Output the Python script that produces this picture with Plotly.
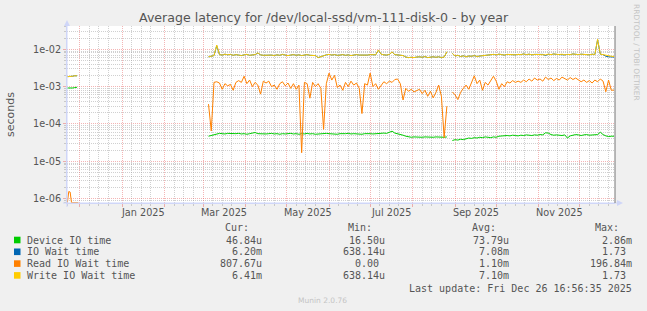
import plotly.graph_objects as go
import pandas as pd

# ---------------- data ----------------
early_dates = pd.date_range("2024-11-22", "2024-12-01", freq="D")
main_dates = pd.date_range("2025-03-05", "2025-12-26", freq="2D")

device_us_early = [920, 910, 930, 900, 920, 940, 950, 960, None, None]
iowait_ms_early = [1.85, 1.85, 1.9, 1.9, 1.9, 1.95, 1.95, 1.95, None, None]
read_ms_early = [0.00078, 0.00155, 0.0015, 0.00078, 0.00078, 0.00078, 0.00078, 0.00078, 0.00078, None]
write_ms_early = [1.85, 1.85, 1.9, 1.9, 1.9, 1.95, 1.95, 1.95, None, None]

device_us_main = [
    47, 49, 51, 53, 56, 55, 54, 56, 55, 54,
    55, 56, 54, 55, 53, 55, 56, 59, 55, 54,
    55, 54, 55, 56, 54, 55, 53, 55, 54, 55,
    56, 54, 55, 53, 55, 54, 56, 54, 55, 53,
    54, 55, 54, 56, 55, 54, 55, 53, 55, 54,
    55, 56, 54, 55, 54, 55, 53, 55, 56, 55,
    54, 55, 56, 55, 57, 56, 59, 64, 57, 55,
    54, 50, 47, 45, 44, 45, 44, 45, 44, 45,
    44, 45, 44, 45, 44, 45, 44, 45, None, 36,
    38, 37, 39, 38, 40, 42, 41, 43, 42, 44,
    43, 45, 44, 43, 45, 44, 47, 48, 47, 49,
    48, 50, 49, 48, 50, 49, 51, 50, 49, 51,
    50, 52, 51, 58, 57, 52, 50, 51, 50, 49,
    51, 42, 48, 50, 52, 51, 49, 51, 52, 50,
    51, 53, 52, 60, 52, 48, 46, 47, 47,
]

iowait_ms_main = [
    6.3, 6.5, 6.8, 12.5, 7.2, 7.0, 7.4, 7.1, 7.3, 6.9,
    7.2, 7.0, 6.8, 7.1, 7.3, 6.9, 7.0, 7.2, 7.9, 7.1,
    6.9, 7.0, 7.2, 7.0, 6.8, 7.1, 6.9, 7.3, 7.0, 6.8,
    7.0, 7.2, 6.9, 7.1, 6.8, 7.0, 7.2, 6.9, 7.0, 6.8,
    6.0, 6.4, 6.9, 7.1, 7.3, 7.0, 7.2, 6.9, 7.0, 7.2,
    6.9, 7.1, 6.8, 7.0, 7.2, 7.0, 6.9, 7.1, 7.0, 7.2,
    7.0, 7.1, 9.4, 7.4, 7.1, 7.0, 7.3, 8.4, 7.2, 7.0,
    7.1, 6.8, 6.2, 6.0, 6.1, 6.0, 6.2, 6.3, 6.1, 6.4,
    6.0, 6.2, 6.3, 6.1, 6.3, 6.0, 6.2, 8.5, None, 7.7,
    6.6, 6.9, 6.4, 6.7, 6.3, 6.6, 6.5, 6.8, 6.4, 6.6,
    6.7, 7.0, 7.2, 7.0, 7.3, 7.1, 7.4, 7.2, 7.0, 7.3,
    7.2, 7.4, 7.1, 7.3, 7.2, 7.5, 7.2, 7.4, 7.1, 7.3,
    7.2, 7.4, 7.3, 6.8, 7.4, 7.2, 7.5, 7.3, 7.2, 7.4,
    7.1, 7.3, 7.2, 7.5, 7.3, 7.2, 7.4, 7.2, 7.3, 7.1,
    7.4, 7.2, 18.0, 7.4, 7.2, 6.5, 6.3, 6.2, 6.2,
]

read_ms_main = [
    0.34, 0.065, 1.3, 1.35, 1.25, 0.85, 1.2, 1.05, 1.15, 0.8,
    1.3, 1.45, 1.3, 1.9, 1.2, 1.5, 1.0, 1.3, 1.1, 0.63,
    1.4, 1.25, 1.4, 1.0, 1.1, 0.85, 1.2, 1.35, 1.05, 1.25,
    0.9, 1.2, 0.85, 1.1, 0.017, 1.3, 1.2, 0.49, 1.3, 1.0,
    1.2, 0.9, 0.072, 1.2, 2.3, 1.5, 2.0, 0.95, 1.1, 0.8,
    1.3, 1.0, 1.4, 1.1, 1.25, 0.9, 0.19, 1.2, 1.1, 2.3,
    1.0, 1.2, 0.85, 1.1, 1.35, 1.2, 1.4, 1.3, 1.55, 1.6,
    1.2, 0.44, 0.9, 0.75, 0.85, 0.72, 0.8, 0.85, 0.65, 0.8,
    0.55, 0.75, 0.5, 0.7, 1.1, 0.55, 0.043, 0.3, None, 0.72,
    0.6, 0.45, 0.7, 0.9, 1.1, 0.85, 1.3, 1.95, 1.2, 1.5,
    0.8, 1.3, 1.1, 1.45, 1.9, 1.4, 0.85, 1.2, 1.0, 1.35,
    1.25, 1.45, 1.3, 1.4, 1.3, 1.5, 1.35, 1.6, 1.4, 1.7,
    1.5, 1.6, 1.4, 1.8, 1.55, 1.7, 1.45, 1.65, 1.5, 1.8,
    1.6, 1.5, 1.75, 1.55, 1.7, 1.5, 1.35, 1.5, 1.3, 1.45,
    1.25, 1.5, 1.35, 1.6, 1.4, 0.73, 1.5, 0.8, 0.81,
]

write_ms_main = [
    6.3, 6.5, 6.8, 13.0, 7.2, 7.0, 7.4, 7.1, 7.3, 6.9,
    7.2, 7.0, 6.8, 7.1, 7.3, 6.9, 7.0, 7.2, 8.0, 7.1,
    6.9, 7.0, 7.2, 7.0, 6.8, 7.1, 6.9, 7.3, 7.0, 6.8,
    7.0, 7.2, 6.9, 7.1, 6.8, 7.0, 7.2, 6.9, 7.0, 6.8,
    6.0, 6.4, 6.9, 7.1, 7.3, 7.0, 7.2, 6.9, 7.0, 7.2,
    6.9, 7.1, 6.8, 7.0, 7.2, 7.0, 6.9, 7.1, 7.0, 7.2,
    7.0, 7.1, 9.6, 7.4, 7.1, 7.0, 7.3, 8.5, 7.2, 7.0,
    7.1, 6.8, 6.2, 6.0, 6.1, 6.0, 6.2, 6.3, 6.1, 6.4,
    6.0, 6.2, 6.3, 6.1, 6.3, 6.0, 6.2, 8.6, None, 7.8,
    6.6, 6.9, 6.4, 6.7, 6.3, 6.6, 6.5, 6.8, 6.4, 6.6,
    6.7, 7.0, 7.2, 7.0, 7.3, 7.1, 7.4, 7.2, 7.0, 7.3,
    7.2, 7.4, 7.1, 7.3, 7.2, 7.5, 7.2, 7.4, 7.1, 7.3,
    7.2, 7.4, 7.3, 7.1, 7.4, 7.2, 7.5, 7.3, 7.2, 7.4,
    7.1, 7.3, 7.2, 7.5, 7.3, 7.2, 7.4, 7.2, 7.3, 7.1,
    7.4, 7.2, 18.5, 7.4, 7.2, 6.9, 6.6, 6.5, 6.4,
]

series_names = ["Device IO time", "IO Wait time", "Read IO Wait time", "Write IO Wait time"]
series_colors = ["#00CC00", "#0066B3", "#FF8000", "#FFCC00"]
cur_vals = ["46.84u", "6.20m", "807.67u", "6.41m"]
min_vals = ["16.50u", "638.14u", "0.00", "638.14u"]
avg_vals = ["73.79u", "7.08m", "1.10m", "7.10m"]
max_vals = ["2.86m", "1.73", "196.84m", "1.73"]
month_labels = ["Jan 2025", "Mar 2025", "May 2025", "Jul 2025", "Sep 2025", "Nov 2025"]
label_months = ["2025-01", "2025-03", "2025-05", "2025-07", "2025-09", "2025-11"]
y_tick_vals = [1e-6, 1e-5, 1e-4, 1e-3, 1e-2]
y_tick_text = ["1e-06", "1e-05", "1e-04", "1e-03", "1e-02"]
title_text = "Average latency for /dev/local-ssd/vm-111-disk-0 - by year"
last_update = "Last update: Fri Dec 26 16:56:35 2025"
x_start, x_end = "2024-11-21 16:56:35", "2025-12-26 16:56:35"

# ---------------- build ----------------
dates = list(early_dates) + list(main_dates)
def ms(vals):
    return [None if v is None else v * 1e-3 for v in vals]
def us(vals):
    return [None if v is None else v * 1e-6 for v in vals]

series_y = [
    us(device_us_early + device_us_main),
    ms(iowait_ms_early + iowait_ms_main),
    ms(read_ms_early + read_ms_main),
    ms(write_ms_early + write_ms_main),
]

fig = go.Figure()
for name, color, yv in zip(series_names, series_colors, series_y):
    fig.add_trace(go.Scatter(x=dates, y=yv, mode="lines", name=name,
                             line=dict(color=color, width=1), connectgaps=False,
                             hoverinfo="skip"))

# axis grid positions
month_starts = list(pd.date_range("2024-12-01", "2025-12-01", freq="MS"))
week_lines = []
for m in pd.date_range("2024-11-01", "2025-12-01", freq="MS"):
    for d in (8, 15, 22):
        t = m + pd.Timedelta(days=d - 1)
        if pd.Timestamp(x_start) < t < pd.Timestamp(x_end):
            week_lines.append(t)
label_vals = []
for lm in label_months:
    a = pd.Timestamp(lm + "-01")
    b = a + pd.offsets.MonthBegin(1)
    label_vals.append(a + (b - a) / 2)
y_minor = [k * 10.0 ** e for e in range(-7, -1) for k in range(2, 10)]

RED = "rgba(230,90,90,0.45)"
GRAY = "rgba(150,150,150,0.45)"
AXIS = "#CFD6F8"
TXT = "#555555"

L_PX, R_PX, T_PX, B_PX = 67, 615, 26, 203
W, H = 647, 311

def fx(x):
    return (x - L_PX) / (R_PX - L_PX)

def fy(y):
    return (B_PX - y) / (B_PX - T_PX)

fig.update_layout(
    width=W, height=H,
    margin=dict(l=L_PX, r=W - R_PX, t=T_PX, b=H - B_PX, pad=0),
    paper_bgcolor="#F0F0F0", plot_bgcolor="#FFFFFF", showlegend=False,
    font=dict(family="DejaVu Sans", size=10, color=TXT),
    xaxis=dict(type="date", range=[x_start, x_end], tickmode="array", tickvals=month_starts,
               showticklabels=False, showgrid=True, gridcolor=RED, griddash="1px,1px", gridwidth=1,
               ticks="outside", ticklen=3, tickcolor=RED, tickwidth=1,
               minor=dict(tickmode="array", tickvals=week_lines, showgrid=True, gridcolor=GRAY,
                          griddash="1px,1px", gridwidth=1, ticks="outside", ticklen=2, tickcolor=GRAY),
               showline=True, linecolor=AXIS, linewidth=1, zeroline=False, automargin=False, fixedrange=True),
    yaxis=dict(type="log", range=[-6.117, -1.376], tickmode="array", tickvals=y_tick_vals,
               ticktext=y_tick_text, showgrid=True, gridcolor=RED, griddash="1px,1px", gridwidth=1,
               ticks="outside", ticklen=3, tickcolor=RED,
               minor=dict(tickmode="array", tickvals=y_minor, showgrid=True, gridcolor=GRAY,
                          griddash="1px,1px", ticks="outside", ticklen=2, tickcolor=GRAY),
               showline=True, linecolor=AXIS, linewidth=1, zeroline=False, automargin=False,
               tickfont=dict(family="DejaVu Sans", size=9.7, color=TXT), fixedrange=True),
)

ann = []
def text(x, y, s, size=10, color=TXT, family="DejaVu Sans Mono", xanchor="left", angle=0, xref="paper"):
    ann.append(dict(x=fx(x) if xref == "paper" else x, y=fy(y), xref=xref, yref="paper", text=s,
                    showarrow=False, xanchor=xanchor, yanchor="middle", borderpad=0, textangle=angle,
                    font=dict(family=family, size=size, color=color)))

# x tick labels, centred on their month (rrdtool style)
for lv, lt in zip(label_vals, month_labels):
    text(lv, 212.7, lt, size=9.7, family="DejaVu Sans", xanchor="center", xref="x")

text(323.5, 18, title_text, size=12.6, family="DejaVu Sans", xanchor="center")
text(11, 115, "seconds", size=11, family="DejaVu Sans", xanchor="center", angle=-90)
text(637, 52, "RRDTOOL / TOBI OETIKER", size=7.5, color="#C4C4C4", family="DejaVu Sans",
     xanchor="center", angle=90)
text(322.5, 300, "Munin 2.0.76", size=7.5, color="#C4C4C4", family="DejaVu Sans", xanchor="center")

header_y = 227.5
for h, xr in zip(["Cur:", "Min:", "Avg:", "Max:"], [250, 373, 497, 620]):
    text(xr, header_y, h, xanchor="right")

def fmt(v):
    return v if v[-1].isalpha() else v + "\u00a0"

shapes = []
for i, (name, color) in enumerate(zip(series_names, series_colors)):
    ry = 240 + 11.8 * i
    shapes.append(dict(type="rect", xref="paper", yref="paper", x0=fx(14), x1=fx(20.5),
                       y0=fy(ry + 3.3), y1=fy(ry - 3.3), fillcolor=color, line=dict(width=0)))
    text(26, ry, name)
    for col, xr in zip([cur_vals, min_vals, avg_vals, max_vals], [263, 386, 510, 633]):
        text(xr, ry, fmt(col[i]), xanchor="right")

text(633, 288, last_update, xanchor="right")

# axis extensions and arrows (rrdtool style)
shapes.append(dict(type="line", xref="paper", yref="paper", x0=fx(L_PX), x1=fx(L_PX),
                   y0=fy(207), y1=fy(23), line=dict(color=AXIS, width=1)))
shapes.append(dict(type="path", xref="paper", yref="paper",
                   path=f"M {fx(64)} {fy(26)} L {fx(70)} {fy(26)} L {fx(67)} {fy(20)} Z",
                   fillcolor=AXIS, line=dict(width=0)))
shapes.append(dict(type="line", xref="paper", yref="paper", x0=fx(63), x1=fx(619),
                   y0=fy(B_PX), y1=fy(B_PX), line=dict(color=AXIS, width=1)))
shapes.append(dict(type="path", xref="paper", yref="paper",
                   path=f"M {fx(617)} {fy(200)} L {fx(617)} {fy(206)} L {fx(623)} {fy(203)} Z",
                   fillcolor=AXIS, line=dict(width=0)))
shapes.append(dict(type="line", xref="paper", yref="paper", x0=1, x1=1, y0=0, y1=1,
                   line=dict(color="#777777", width=1)))

fig.update_layout(annotations=ann, shapes=shapes)
fig.write_html("out.html")
